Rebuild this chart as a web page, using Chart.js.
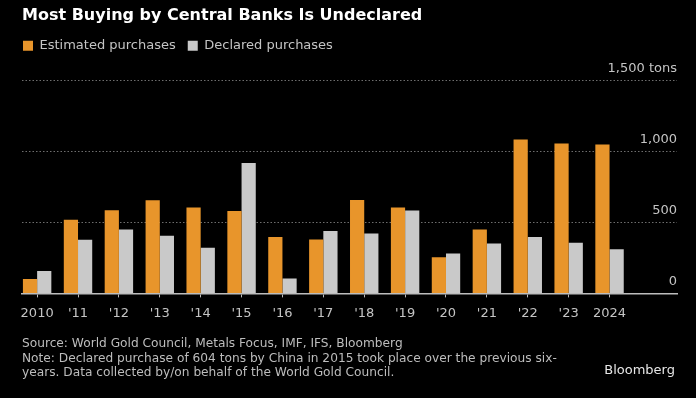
<!DOCTYPE html>
<html>
<head>
<meta charset="utf-8">
<script src="https://cdn.jsdelivr.net/npm/chart.js@4.4.1/dist/chart.umd.min.js"></script>
<style>
  html, body { margin: 0; padding: 0; background: #000; }
  #wrap { position: relative; width: 696px; height: 398px; background: #000; overflow: hidden; }
  canvas { position: absolute; left: 0; top: 0; }
  .foot { position: absolute; left: 22px; color: #bdbdbd; font-family: "DejaVu Sans", sans-serif; font-size: 12.2px; line-height: 14.5px; white-space: nowrap; }
  #brand { position: absolute; right: 21px; top: 362px; color: #e6e6e6; font-family: "DejaVu Sans", sans-serif; font-size: 13px; }
</style>
</head>
<body>
<div id="wrap">
  <canvas id="c" width="696" height="398"></canvas>
  <div class="foot" style="top:336px">Source: World Gold Council, Metals Focus, IMF, IFS, Bloomberg<br>Note: Declared purchase of 604 tons by China in 2015 took place over the previous six-<br>years. Data collected by/on behalf of the World Gold Council.</div>
  <div id="brand">Bloomberg</div>
</div>
<script>
const years = [2010, 2011, 2012, 2013, 2014, 2015, 2016, 2017, 2018, 2019, 2020, 2021, 2022, 2023, 2024];
const yearLabels = ['2010', "'11", "'12", "'13", "'14", "'15", "'16", "'17", "'18", "'19", "'20", "'21", "'22", "'23", '2024'];
const estimated = [101, 519, 585, 656, 604, 580, 396, 380, 657, 605, 254, 450, 1083, 1055, 1048];
const declared = [158, 377, 450, 406, 321, 917, 104, 439, 422, 584, 280, 351, 396, 356, 311];
const yTicks = [0, 500, 1000, 1500];
const yTickLabels = ['0', '500', '1,000', '1,500 tons'];

const ORANGE = '#e8952b';
const GRAY = '#c9c9c9';
const TEXT = '#c4c4c4';

const legendTweak = {
  id: 'legendTweak',
  beforeInit(chart) {
    const fit = chart.legend.fit;
    chart.legend.fit = function () { fit.bind(this)(); this.height += 18; };
  },
  afterLayout(chart) {
    chart.legend.left -= 11;
  }
};

new Chart(document.getElementById('c'), {
  type: 'bar',
  data: {
    labels: years,
    datasets: [
      { label: 'Estimated purchases', data: estimated, backgroundColor: ORANGE, categoryPercentage: 0.695, barPercentage: 1.0, borderWidth: 0 },
      { label: 'Declared purchases', data: declared, backgroundColor: GRAY, categoryPercentage: 0.695, barPercentage: 1.0, borderWidth: 0 }
    ]
  },
  options: {
    responsive: false,
    animation: false,
    devicePixelRatio: 1,
    layout: { padding: { left: 22, right: 19, top: 0, bottom: 69 } },
    plugins: {
      title: {
        display: true, align: 'start', text: 'Most Buying by Central Banks Is Undeclared',
        color: '#ffffff', font: { family: 'DejaVu Sans', size: 16, weight: 'bold' },
        padding: { top: 6, bottom: 2 }
      },
      legend: {
        display: true, align: 'start',
        labels: { color: TEXT, font: { family: 'DejaVu Sans', size: 13 }, boxWidth: 10, boxHeight: 10, padding: 12 }
      },
      tooltip: { enabled: false }
    },
    scales: {
      x: {
        type: 'linear',
        offset: false,
        min: 2009.63, max: 2025.65,
        ticks: {
          stepSize: 1, includeBounds: false, autoSkip: false, maxRotation: 0,
          color: TEXT, font: { family: 'DejaVu Sans', size: 13 }, padding: 8,
          callback: (v) => { const i = years.indexOf(v); return i >= 0 ? yearLabels[i] : ''; }
        },
        grid: {
          offset: false,
          drawOnChartArea: false, drawTicks: true, tickLength: 4,
          tickColor: (ctx) => (ctx.tick && years.includes(ctx.tick.value)) ? '#bdbdbd' : 'rgba(0,0,0,0)',
          tickWidth: 1
        },
        border: { display: true, color: '#bdbdbd', width: 1.5 }
      },
      y: {
        position: 'right',
        min: 0, max: 1500,
        afterBuildTicks: (scale) => { scale.ticks = yTicks.map(v => ({ value: v })); },
        ticks: {
          mirror: true, padding: 0, labelOffset: -12,
          color: TEXT, font: { family: 'DejaVu Sans', size: 13 },
          callback: (v) => { const i = yTicks.indexOf(v); return i >= 0 ? yTickLabels[i] : ''; }
        },
        grid: {
          drawTicks: false,
          color: (ctx) => (ctx.tick && ctx.tick.value === 0) ? 'rgba(0,0,0,0)' : '#6e6e6e',
          lineWidth: 1
        },
        border: { display: false, dash: [1.5, 2] }
      }
    }
  },
  plugins: [legendTweak]
});
</script>
</body>
</html>
